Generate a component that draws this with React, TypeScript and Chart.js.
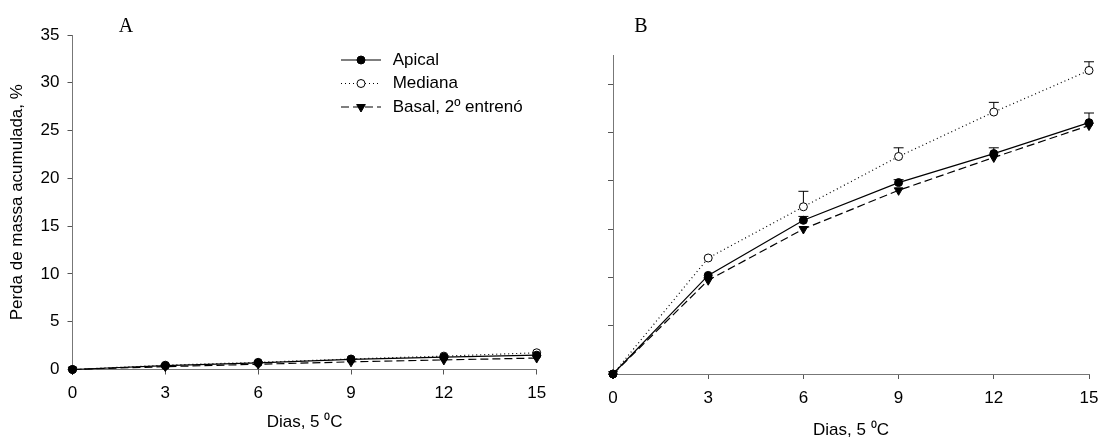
import React, { useEffect, useRef } from 'react';
import { Chart, registerables } from 'chart.js';

Chart.register(...registerables);

// ---------- data ----------
const days = [0, 3, 6, 9, 12, 15];
const seriesLabels = ['Apical', 'Mediana', 'Basal, 2º entrenó'];

const apicalA = [0, 0.4, 0.7, 1.05, 1.3, 1.5];
const medianaA = [0, 0.45, 0.75, 1.1, 1.4, 1.75];
const basalA = [0, 0.3, 0.55, 0.8, 1.0, 1.2];

const apicalB = [0, 10.2, 15.9, 19.8, 22.8, 26.0];
const medianaB = [0, 12.0, 17.3, 22.5, 27.1, 31.4];
const basalB = [0, 9.7, 15.0, 19.0, 22.4, 25.7];

// upper end of the error bars (mean + error)
const apicalBErr = [null, null, 16.3, 20.1, 23.4, 27.0];
const medianaBErr = [null, null, 18.9, 23.4, 28.1, 32.3];

const xTitle = 'Dias, 5 \u2070C';
const yTitle = 'Perda de massa acumulada, %';

const SANS = '"Liberation Sans", Arial, sans-serif';
const SERIF = '"Liberation Serif", "Times New Roman", serif';

type Err = (number | null)[] | undefined;

function makeDatasets(ap: number[], me: number[], ba: number[], apErr?: Err, meErr?: Err) {
  const pts = (v: number[]) => days.map((d, i) => ({ x: d, y: v[i] }));
  return [
    {
      label: seriesLabels[0],
      data: pts(ap),
      borderColor: '#000',
      borderWidth: 1.2,
      pointStyle: 'circle',
      pointRadius: 4,
      pointBackgroundColor: '#000',
      pointBorderColor: '#000',
      pointBorderWidth: 1,
      clip: false as any,
      errUpper: apErr,
    },
    {
      label: seriesLabels[1],
      data: pts(me),
      borderColor: '#000',
      borderWidth: 1.2,
      borderDash: [1, 3],
      pointStyle: 'circle',
      pointRadius: 4,
      pointBackgroundColor: '#fff',
      pointBorderColor: '#000',
      pointBorderWidth: 1,
      clip: false as any,
      errUpper: meErr,
    },
    {
      label: seriesLabels[2],
      data: pts(ba),
      borderColor: '#000',
      borderWidth: 1.2,
      borderDash: [8, 4],
      pointStyle: 'triangle',
      pointRotation: 180,
      pointRadius: 5,
      pointBackgroundColor: '#000',
      pointBorderColor: '#000',
      pointBorderWidth: 1,
      clip: false as any,
    },
  ];
}

const errorBarPlugin = {
  id: 'errorBars',
  beforeDatasetsDraw(chart: any) {
    const ctx = chart.ctx;
    const yScale = chart.scales.y;
    chart.data.datasets.forEach((ds: any, i: number) => {
      const errs = ds.errUpper;
      if (!errs) return;
      const meta = chart.getDatasetMeta(i);
      ctx.save();
      ctx.strokeStyle = '#000';
      ctx.lineWidth = 1;
      errs.forEach((e: number | null, j: number) => {
        if (e == null) return;
        const el = meta.data[j];
        const x = el.x;
        const y0 = el.y;
        const y1 = yScale.getPixelForValue(e);
        ctx.beginPath();
        ctx.moveTo(x, y0);
        ctx.lineTo(x, y1);
        ctx.moveTo(x - 5, y1);
        ctx.lineTo(x + 5, y1);
        ctx.stroke();
      });
      ctx.restore();
    });
  },
};

const panelLetterPlugin = {
  id: 'panelLetter',
  afterDraw(chart: any, _args: any, opts: any) {
    if (!opts || !opts.text) return;
    const ctx = chart.ctx;
    ctx.save();
    ctx.font = `20px ${SERIF}`;
    ctx.fillStyle = '#000';
    ctx.textAlign = 'center';
    ctx.textBaseline = 'middle';
    ctx.fillText(opts.text, opts.x, opts.y);
    ctx.restore();
  },
};

const insetLegendPlugin = {
  id: 'insetLegend',
  afterDraw(chart: any, _args: any, opts: any) {
    if (!opts || !opts.show) return;
    const ctx = chart.ctx;
    const { x, y, gap, lineLen, textGap } = opts;
    chart.data.datasets.forEach((ds: any, i: number) => {
      const cy = y + i * gap;
      ctx.save();
      ctx.strokeStyle = ds.borderColor;
      ctx.lineWidth = ds.borderWidth;
      ctx.setLineDash(ds.borderDash || []);
      ctx.beginPath();
      ctx.moveTo(x, cy);
      ctx.lineTo(x + lineLen, cy);
      ctx.stroke();
      ctx.setLineDash([]);
      const mx = x + lineLen / 2;
      ctx.fillStyle = ds.pointBackgroundColor;
      ctx.strokeStyle = ds.pointBorderColor;
      ctx.lineWidth = 1;
      ctx.beginPath();
      if (ds.pointStyle === 'triangle') {
        const r = ds.pointRadius;
        ctx.moveTo(mx - r * 0.866, cy - r * 0.5);
        ctx.lineTo(mx + r * 0.866, cy - r * 0.5);
        ctx.lineTo(mx, cy + r);
        ctx.closePath();
      } else {
        ctx.arc(mx, cy, ds.pointRadius, 0, Math.PI * 2);
      }
      ctx.fill();
      ctx.stroke();
      ctx.fillStyle = '#000';
      ctx.font = `17px ${SANS}`;
      ctx.textAlign = 'left';
      ctx.textBaseline = 'middle';
      ctx.fillText(ds.label, x + lineLen + textGap, cy);
      ctx.restore();
    });
  },
};

function axisCommon() {
  return {
    grid: {
      display: true,
      drawOnChartArea: false,
      drawTicks: true,
      tickLength: 5,
      color: '#555',
    },
    border: { display: true, color: '#777', width: 1 },
  };
}

function buildConfig(panel: 'A' | 'B'): any {
  const isA = panel === 'A';
  const datasets = isA
    ? makeDatasets(apicalA, medianaA, basalA)
    : makeDatasets(apicalB, medianaB, basalB, apicalBErr, medianaBErr);
  return {
    type: 'line',
    data: { datasets },
    plugins: [errorBarPlugin, panelLetterPlugin, insetLegendPlugin],
    options: {
      responsive: false,
      animation: false,
      devicePixelRatio: 1,
      layout: {
        padding: isA
          ? { top: 35, right: 23.3, bottom: 0, left: 0 }
          : { top: 55, right: 9, bottom: 0, left: 0 },
      },
      plugins: {
        legend: { display: false },
        tooltip: { enabled: false },
        title: { display: false },
        panelLetter: isA ? { text: 'A', x: 126, y: 27 } : { text: 'B', x: 81, y: 27 },
        insetLegend: isA
          ? { show: true, x: 341, y: 60, gap: 23.5, lineLen: 40, textGap: 11.7 }
          : { show: false },
      },
      scales: {
        x: {
          type: 'linear',
          min: 0,
          max: 15,
          ...axisCommon(),
          ticks: {
            stepSize: 3,
            padding: 9,
            color: '#000',
            font: { size: 17, family: SANS },
            maxRotation: 0,
          },
          title: {
            display: true,
            text: xTitle,
            color: '#000',
            font: { size: 17, family: SANS, lineHeight: isA ? 1.2 : 1.0 },
            padding: isA ? { top: 0, bottom: 6 } : { top: 0, bottom: 0 },
          },
          afterFit(s: any) {
            s.height = isA ? 69.5 : 65;
            s.paddingRight = 0;
            s.paddingLeft = 0;
          },
        },
        y: {
          type: 'linear',
          min: 0,
          max: isA ? 35 : 33,
          ...axisCommon(),
          ticks: {
            stepSize: 5,
            padding: 8,
            includeBounds: false,
            display: isA,
            color: '#000',
            font: { size: 17, family: SANS },
          },
          title: {
            display: isA,
            text: yTitle,
            color: '#000',
            font: { size: 17, family: SANS, lineHeight: 1.2 },
            padding: { top: 7, bottom: 0 },
          },
          afterFit(s: any) {
            s.width = isA ? 72.5 : 53;
          },
        },
      },
    },
  };
}

function Panel({ panel, left, width }: { panel: 'A' | 'B'; left: number; width: number }) {
  const ref = useRef<HTMLCanvasElement>(null);
  useEffect(() => {
    if (!ref.current) return;
    const chart = new Chart(ref.current, buildConfig(panel));
    return () => chart.destroy();
  }, [panel]);
  return (
    <canvas
      ref={ref}
      width={width}
      height={439}
      style={{ position: 'absolute', left, top: 0, width, height: 439 }}
    />
  );
}

export default function App() {
  return (
    <div
      style={{
        position: 'fixed',
        left: 0,
        top: 0,
        width: 1098,
        height: 439,
        background: '#fff',
        overflow: 'hidden',
      }}
    >
      <Panel panel="A" left={0} width={560} />
      <Panel panel="B" left={560} width={538} />
    </div>
  );
}
